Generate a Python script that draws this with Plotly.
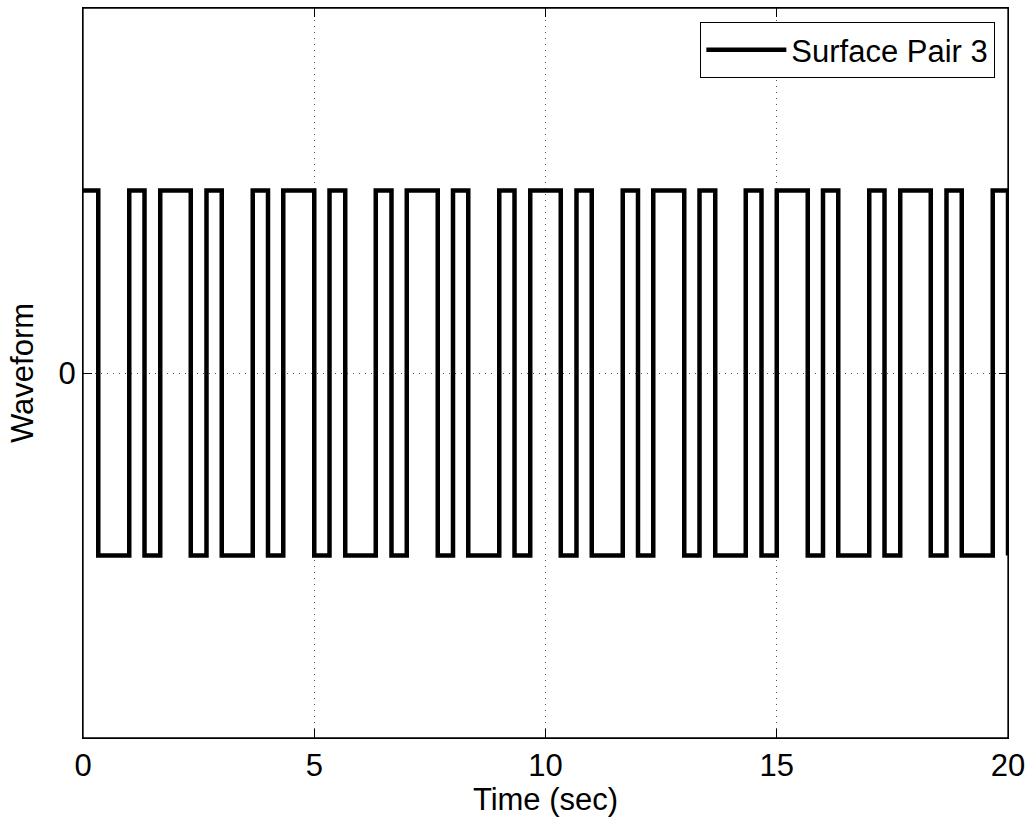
import plotly.graph_objects as go

# Switching instants (s) of the square waveform and the level held after each one
edge_times = [0, 0.33, 1.0, 1.33, 1.67, 2.33, 2.67, 3.0, 3.67, 4.0, 4.33, 5.0,
              5.33, 5.67, 6.33, 6.67, 7.0, 7.67, 8.0, 8.33, 9.0, 9.33, 9.67,
              10.33, 10.67, 11.0, 11.67, 12.0, 12.33, 13.0, 13.33, 13.67,
              14.33, 14.67, 15.0, 15.67, 16.0, 16.33, 17.0, 17.33, 17.67,
              18.33, 18.67, 19.0, 19.67, 20.0]
levels = [1, -1, 1, -1, 1, -1, 1, -1, 1, -1, 1, -1, 1, -1, 1, -1, 1, -1, 1, -1,
          1, -1, 1, -1, 1, -1, 1, -1, 1, -1, 1, -1, 1, -1, 1, -1, 1, -1, 1, -1,
          1, -1, 1, -1, 1, -1]

x_ticks = [0, 5, 10, 15, 20]
x_tick_labels = ["0", "5", "10", "15", "20"]
y_ticks = [0]
y_tick_labels = ["0"]

FONT = "Liberation Sans, Arial, Helvetica, sans-serif"
FS = 31

fig = go.Figure()
fig.add_trace(go.Scatter(
    x=edge_times, y=levels, mode="lines", line_shape="hv",
    line=dict(color="black", width=4.5),
    name="Surface Pair 3",
))

axis_common = dict(
    showline=True, linecolor="black", linewidth=1.3, mirror="ticks",
    ticks="inside", ticklen=9, tickwidth=1, tickcolor="black",
    showgrid=True, gridcolor="#555555", gridwidth=1, griddash="1px,5px",
    zeroline=False, automargin=False,
    tickfont=dict(family=FONT, size=FS, color="black"),
)

fig.update_xaxes(
    range=[0, 20], tickvals=x_ticks, ticktext=x_tick_labels,
    title=dict(text="Time (sec)", font=dict(family=FONT, size=FS, color="black"), standoff=4),
    **axis_common,
)
fig.update_yaxes(
    range=[-2, 2], tickvals=y_ticks, ticktext=y_tick_labels,
    title=dict(text="Waveform", font=dict(family=FONT, size=FS, color="black"), standoff=15),
    **axis_common,
)

# axes box frame
fig.add_shape(type="rect", xref="paper", yref="paper", x0=0, x1=1, y0=0, y1=1,
              line=dict(color="black", width=1.3), fillcolor="rgba(0,0,0,0)", layer="above")

fig.update_layout(
    width=1027, height=817,
    margin=dict(l=83, r=19, t=8, b=79),
    paper_bgcolor="white", plot_bgcolor="white",
    font=dict(family=FONT, size=FS, color="black"),
    showlegend=True,
    legend=dict(
        x=0.986, y=0.981, xanchor="right", yanchor="top",
        bgcolor="white", bordercolor="black", borderwidth=1.3,
        font=dict(family=FONT, size=FS, color="black"),
        itemwidth=80,
    ),
)

fig.write_html(
    "out.html",
    config={"displayModeBar": False},
    post_script="document.body.style.margin='0px'; document.body.style.overflow='hidden';",
)
